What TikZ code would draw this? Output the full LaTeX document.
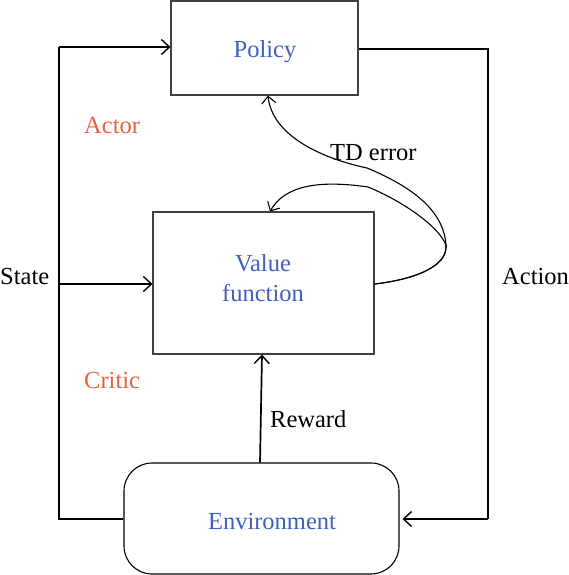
\documentclass[tikz,border=0pt]{standalone}
\usepackage{fontspec}
\setmainfont{Liberation Serif}
\usetikzlibrary{arrows.meta}
\definecolor{txtblue}{RGB}{63,95,191}
\definecolor{txtred}{RGB}{232,96,60}
\tikzset{
  box/.style={draw=black!75, line width=1.1pt, inner sep=0pt},
  btxt/.style={font=\fontsize{24.5}{30}\selectfont, text=txtblue, align=center, inner sep=0pt},
  conn/.style={draw=black, line width=1.7pt, -{Straight Barb[length=8pt,width=15pt,line width=1.4pt]}},
  line/.style={draw=black, line width=1.7pt},
  curve/.style={draw=black, line width=1.1pt, -{Straight Barb[length=7pt,width=14pt,line width=1.1pt]}},
  lbl/.style={font=\fontsize{24.5}{28}\selectfont, text=black, inner sep=0pt, anchor=west},
  rlbl/.style={font=\fontsize{24.5}{28}\selectfont, text=txtred, inner sep=0pt, anchor=west}
}
\begin{document}
\begin{tikzpicture}[x=1pt,y=-1pt]
\useasboundingbox (0,0) rectangle (568,575);
\node[box, minimum width=187pt, minimum height=94pt] (policy) at (264.5,48) {};
\node[box, minimum width=221pt, minimum height=142pt] (value) at (263.5,283) {};
\node[box, draw=black, rounded corners=28pt, minimum width=275pt, minimum height=111pt] (env) at (261.5,518.5) {};

\node[btxt] (policytxt) at (265,52) {Policy};
\node[btxt] (valuetxt) at (263,278) {Value\\function};
\node[btxt] (envtxt) at (272,522) {Environment};

\node[rlbl] (actor) at (84,126) {Actor};
\node[rlbl] (critic) at (84,381) {Critic};
\node[lbl] (state) at (0,277) {State};
\node[lbl] (action) at (502,277) {Action};
\node[lbl] (td) at (330,153) {TD error};
\node[lbl] (reward) at (270,419) {Reward};

\coordinate (rtop) at (488,49);
\coordinate (rbot) at (488,519);
\coordinate (lbot) at (59,519);
\coordinate (ltop) at (59,47);
\coordinate (lmid) at (59,284);
\coordinate (turn) at (446,245);
\coordinate (kink) at (368,187);

\draw[line] (policy.east |- rtop) -- (rtop) -- (rbot);
\draw[conn, shorten >=3pt] (rbot) -- (env.east |- rbot);
\draw[line] (env.west |- lbot) -- (lbot) -- (ltop);
\draw[conn] (ltop) -- (policy.west |- ltop);
\draw[conn] (lmid) -- (value.west |- lmid);
\draw[conn] ([xshift=-1.5pt]env.north) -- ([xshift=-1.5pt]value.south);

\draw[curve] (value.east |- lmid) .. controls (410,280) and (448,268) .. (turn)
  .. controls (444,215) and (420,190) .. (367,168)
  .. controls (320,158) and (272,135) .. ([xshift=3.5pt]policy.south);
\draw[curve] (value.east |- lmid) .. controls (410,280) and (448,268) .. (turn)
  .. controls (438,225) and (400,200) .. (kink)
  .. controls (320,180) and (285,185) .. ([xshift=6.5pt]value.north);
\end{tikzpicture}
\end{document}
